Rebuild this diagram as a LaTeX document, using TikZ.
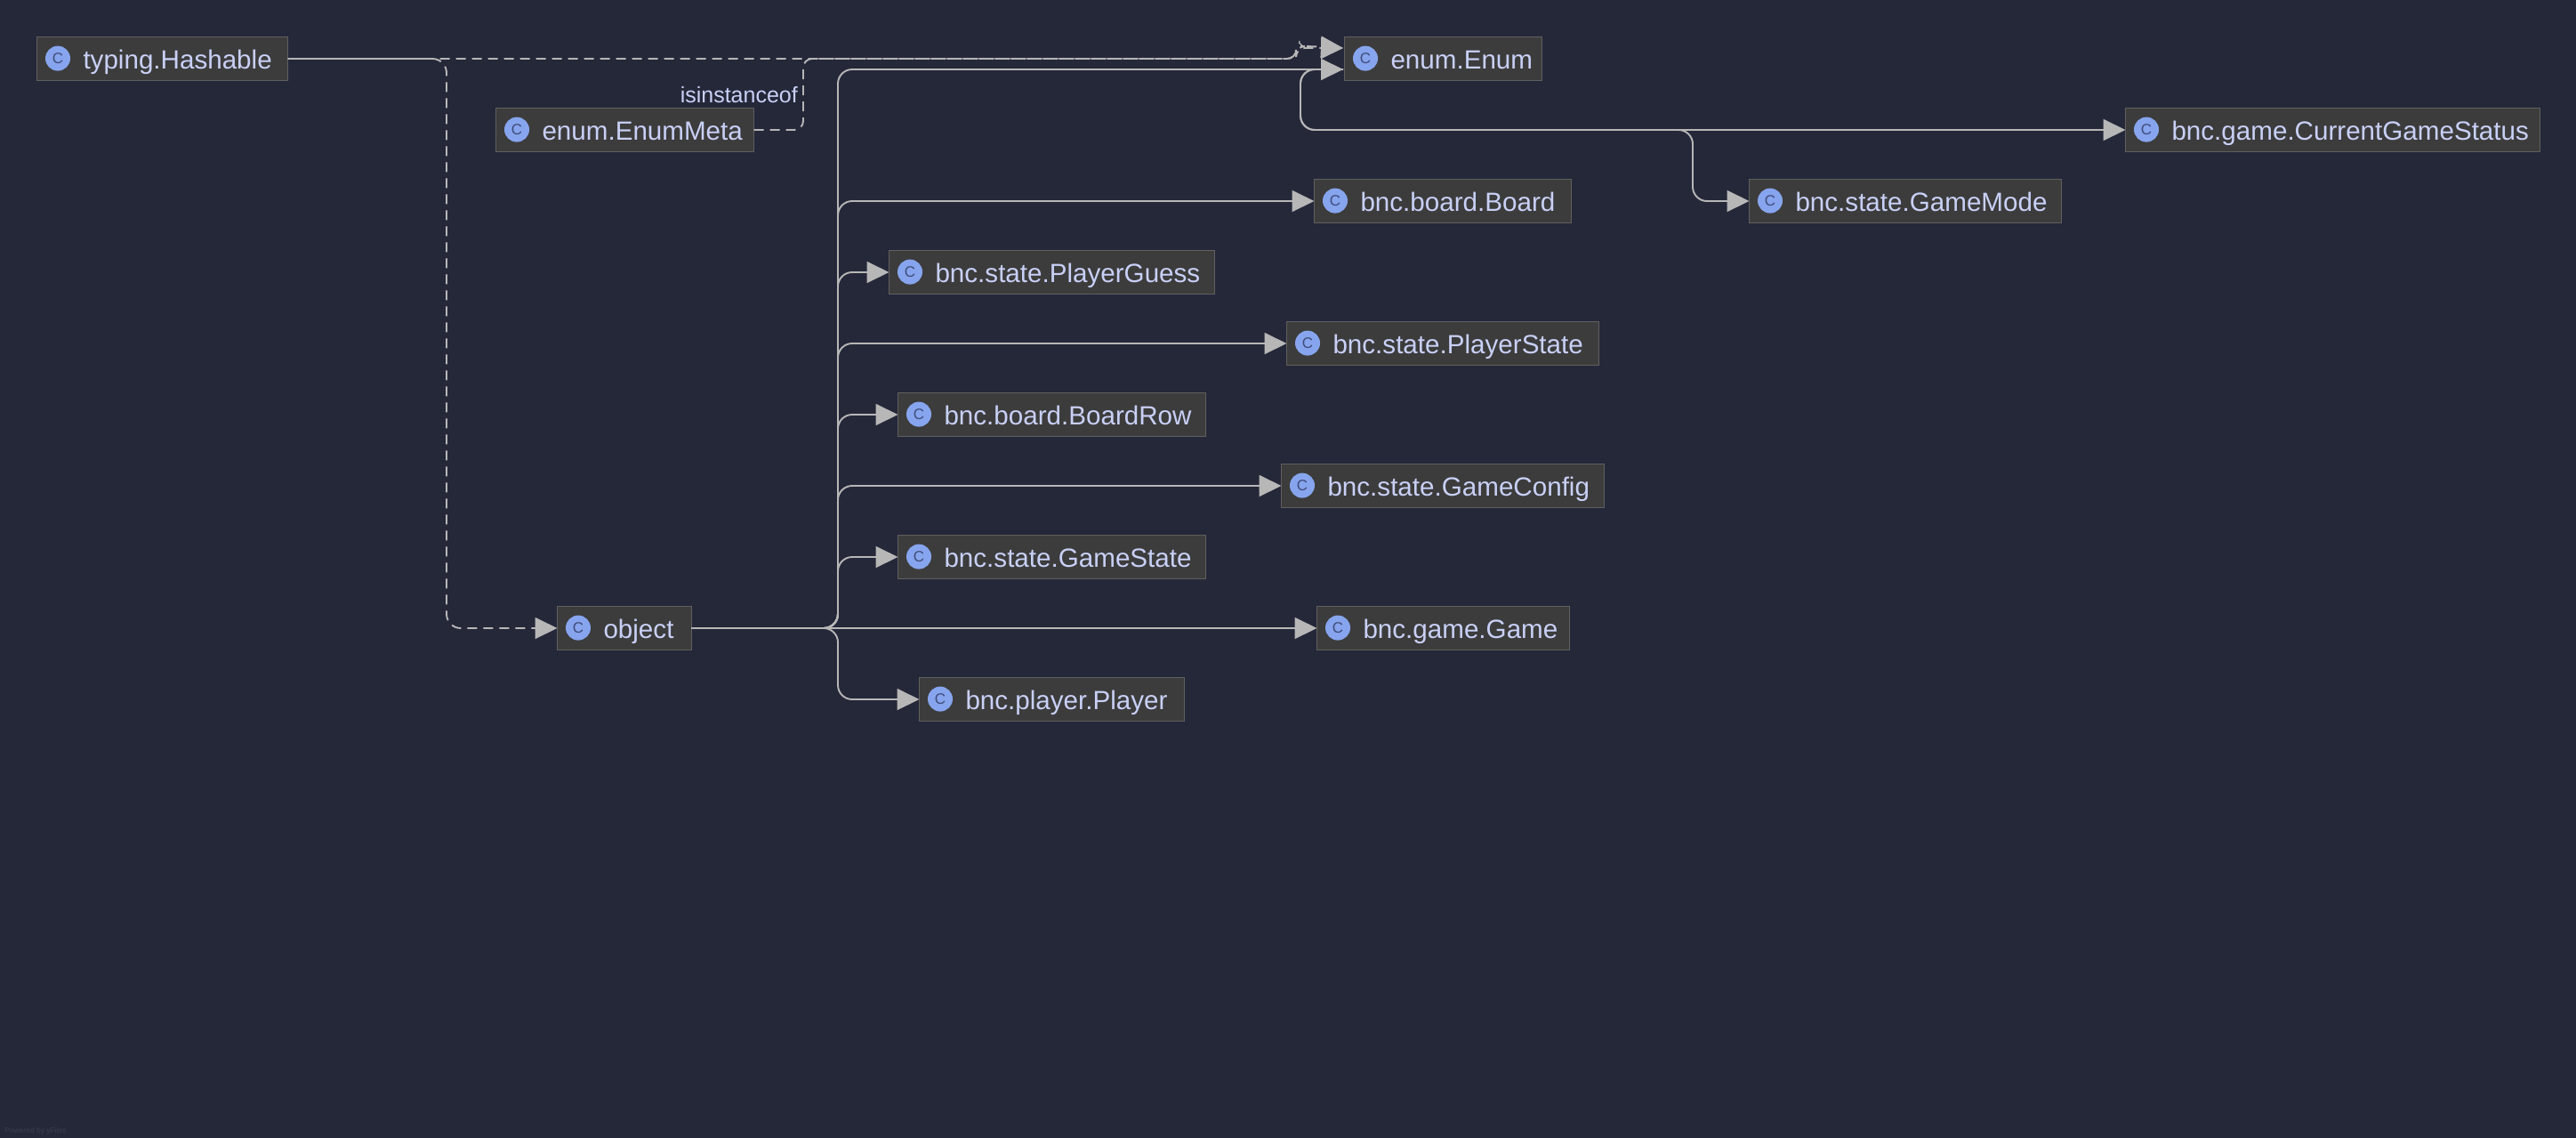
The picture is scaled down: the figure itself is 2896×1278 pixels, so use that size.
\documentclass[tikz,border=0pt]{standalone}
\usepackage{fontspec}
\setmainfont{Liberation Sans}
\usetikzlibrary{arrows.meta}

\definecolor{bgdark}{HTML}{252839}
\definecolor{boxfill}{HTML}{3C3C3C}
\definecolor{boxline}{HTML}{5F605F}
\definecolor{labeltext}{HTML}{C9D0F6}
\definecolor{iconblue}{HTML}{87A5EE}
\definecolor{icontext}{HTML}{3F4C7A}
\definecolor{edgegray}{HTML}{B7B7B7}
\definecolor{markgray}{HTML}{3B3E4D}

\tikzset{
    classbox/.style={draw=boxline, fill=boxfill, line width=1.5pt, outer sep=0pt, anchor=west, minimum height=49pt,
        xshift=0.5pt, inner xsep=0pt, inner ysep=0pt, text=labeltext, text height=28.5pt, text depth=5.5pt,
        font=\fontsize{29.6}{34}\selectfont},
    classicon/.style={circle, fill=iconblue, minimum size=28pt, inner sep=0pt, text=icontext,
        font=\fontsize{17}{17}\selectfont},
    edge/.style={draw=edgegray, line width=1.9pt, rounded corners=16pt, -{Triangle[length=25pt,width=24pt]}},
    dashedge/.style={edge, dash pattern=on 11pt off 7pt},
}

% Box with its round icon: name, left end, width, text
\newcommand{\classnode}[4]{%
    \node[classbox, minimum width=#3pt, align=left] (#1) at (#2) {\makebox[#3pt][l]{\hspace{52pt}#4}};
    \node[classicon] (#1icon) at ([xshift=23.5pt,yshift=0.4pt]#1.west) {C};
}

\begin{document}
\begin{tikzpicture}[x=1pt, y=-1pt]

    % Fundo
    \useasboundingbox (0,0) rectangle (2896,1278);
    \fill[bgdark] (-5,-5) rectangle (2901,1283);

    % Classes
    \classnode{hashable}{41,66}{282}{typing.Hashable}
    \classnode{enummeta}{557,146}{290}{enum.EnumMeta}
    \classnode{enumbase}{1511,66}{222}{enum.Enum}
    \classnode{gamestatus}{2389,146}{466}{bnc.game.CurrentGameStatus}
    \classnode{board}{1477,226}{289}{bnc.board.Board}
    \classnode{gamemode}{1966,226}{351}{bnc.state.GameMode}
    \classnode{playerguess}{999,306}{366}{bnc.state.PlayerGuess}
    \classnode{playerstate}{1446,386}{351}{bnc.state.PlayerState}
    \classnode{boardrow}{1009,466}{346}{bnc.board.BoardRow}
    \classnode{gameconfig}{1440,546}{363}{bnc.state.GameConfig}
    \classnode{gamestate}{1009,626}{346}{bnc.state.GameState}
    \classnode{object}{626,706}{151}{object}
    \classnode{game}{1480,706}{284}{bnc.game.Game}
    \classnode{player}{1033,786}{298}{bnc.player.Player}

    % Pontos de apoio das arestas
    \coordinate (trunk) at (942,706);
    \coordinate (hashdrop) at (502,66);
    \coordinate (metarise) at (903,146);
    \coordinate (enumstep) at (1457,66);
    \coordinate (enumtop) at (1510,54);
    \coordinate (enumtilt) at (1472,52);
    \coordinate (enumlow) at (1510,78);
    \coordinate (enumback) at (1462,78);
    \coordinate (statusdrop) at (1903,146);

    % Arestas tracejadas
    \draw[dashedge] (hashable.east) -- (hashdrop) -- (hashdrop |- object.west) -- (object.west);
    \draw[dashedge, dash phase=9pt, rounded corners=10pt] (hashable.east) -- (enumstep) -- (enumstep |- enumtop) -- (enumtop);
    \draw[dashedge, rounded corners=10pt] (enummeta.east) -- (metarise) -- (metarise |- hashable.east) -- (enumstep) -- (enumstep |- enumtilt) -- (enumtilt) -- (enumtop);
    \draw[edgegray, line width=1.2pt] (1463,53) .. controls (1466,49) and (1458,50) .. (1461,46);
    \node[text=labeltext, anchor=base east, inner sep=0pt, font=\fontsize{25}{30}\selectfont] (isinstance) at (897,115) {isinstanceof};

    % Arestas de object
    \draw[edge] (object.east) -- (trunk) -- (trunk |- enumlow) -- (enumlow);
    \draw[edge] (object.east) -- (trunk) -- (trunk |- board.west) -- (board.west);
    \draw[edge] (object.east) -- (trunk) -- (trunk |- playerguess.west) -- (playerguess.west);
    \draw[edge] (object.east) -- (trunk) -- (trunk |- playerstate.west) -- (playerstate.west);
    \draw[edge] (object.east) -- (trunk) -- (trunk |- boardrow.west) -- (boardrow.west);
    \draw[edge] (object.east) -- (trunk) -- (trunk |- gameconfig.west) -- (gameconfig.west);
    \draw[edge] (object.east) -- (trunk) -- (trunk |- gamestate.west) -- (gamestate.west);
    \draw[edge] (object.east) -- (game.west);
    \draw[edge] (object.east) -- (trunk) -- (trunk |- player.west) -- (player.west);

    % Arestas de enum.Enum
    \draw[edge] (enumlow) -- (enumback) -- (enumback |- gamestatus.west) -- (gamestatus.west);
    \draw[edge] (enumlow) -- (enumback) -- (enumback |- gamestatus.west) -- (statusdrop) -- (statusdrop |- gamemode.west) -- (gamemode.west);

    % Marca no canto
    \node[text=markgray, anchor=base west, inner sep=0pt, font=\fontsize{8.5}{10}\selectfont] (poweredby) at (5,1273) {Powered by yFiles};

\end{tikzpicture}
\end{document}
